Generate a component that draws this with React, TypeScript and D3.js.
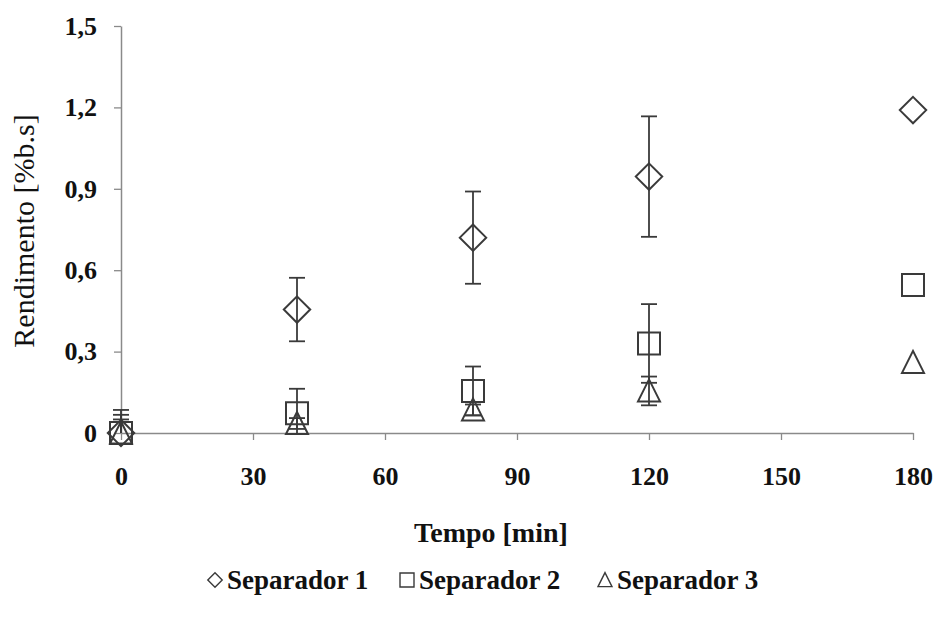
import React, { useEffect, useRef } from 'react';
import * as d3 from 'd3';

// x values (minutes)
const tempos = [0, 40, 80, 120, 180];
const seriesNames = ['Separador 1', 'Separador 2', 'Separador 3'];
const sep1 = [0, 0.455, 0.72, 0.945, 1.19];
const sep2 = [0, 0.073, 0.155, 0.33, 0.545];
const sep3 = [0, 0.035, 0.085, 0.155, 0.26];
// error bar half-widths (null = no bar)
const err1 = [0.05, 0.117, 0.17, 0.222, null];
const err2 = [0.085, 0.09, 0.09, 0.145, null];
const err3 = [0.067, 0.02, 0.02, 0.053, null];
const xTicks = [0, 30, 60, 90, 120, 150, 180];
const yTicks = [0, 0.3, 0.6, 0.9, 1.2, 1.5];

const W = 938;
const H = 620;
const margin = { top: 26, right: 25, bottom: 187, left: 121 };

function App() {
  const svgRef = useRef<SVGSVGElement>(null);

  useEffect(() => {
    const svg = d3.select(svgRef.current);
    svg.selectAll('*').remove();

    const x = d3.scaleLinear().domain([0, 180]).range([margin.left, W - margin.right]);
    const y = d3.scaleLinear().domain([0, 1.5]).range([H - margin.bottom, margin.top]);
    const font = '"Liberation Serif", serif';
    const ink = '#3a3a3a';

    // axes
    const xAxis = svg.append('g')
      .attr('transform', `translate(0,${y(0)})`)
      .call(d3.axisBottom(x).tickValues(xTicks).tickSize(7).tickPadding(27).tickSizeOuter(0));
    xAxis.select('.domain').attr('stroke', '#8a8a8a').attr('stroke-width', 1.5);
    xAxis.selectAll('.tick line').attr('stroke', '#8a8a8a').attr('stroke-width', 1.3);
    xAxis.selectAll('.tick text')
      .style('font-family', font).style('font-size', '26px').style('font-weight', 'bold').attr('fill', '#111')
      .text(d => String(d));

    const yAxis = svg.append('g')
      .attr('transform', `translate(${margin.left},0)`)
      .call(d3.axisLeft(y).tickValues(yTicks).tickSize(7).tickPadding(17).tickSizeOuter(0));
    yAxis.select('.domain').attr('stroke', '#8a8a8a').attr('stroke-width', 1.5);
    yAxis.selectAll('.tick line').attr('stroke', '#8a8a8a').attr('stroke-width', 1.3);
    yAxis.selectAll('.tick text')
      .style('font-family', font).style('font-size', '26px').style('font-weight', 'bold').attr('fill', '#111')
      .text(d => (d === 0 ? '0' : d3.format('.1f')(d as number).replace('.', ',')));

    // titles
    svg.append('text')
      .attr('x', 491).attr('y', 542)
      .attr('text-anchor', 'middle')
      .style('font-family', font).style('font-size', '28px').style('font-weight', 'bold').attr('fill', '#111')
      .text('Tempo [min]');
    svg.append('text')
      .attr('transform', `translate(34,231) rotate(-90)`)
      .attr('text-anchor', 'middle')
      .style('font-family', font).style('font-size', '30px').attr('fill', '#111')
      .text('Rendimento [%b.s]');

    const diamond = (s: number) => `M0,${-s}L${s},0L0,${s}L${-s},0Z`;
    const square = (s: number) => `M${-s},${-s}H${s}V${s}H${-s}Z`;
    const triangle = (s: number) => `M0,${-s * 1.05}L${s},${s * 0.95}L${-s},${s * 0.95}Z`;

    const series = [
      { vals: sep1, errs: err1, shape: (s: number) => diamond(s * 1.2) },
      { vals: sep2, errs: err2, shape: square },
      { vals: sep3, errs: err3, shape: triangle },
    ];

    // error bars
    series.forEach(sr => {
      const g = svg.append('g').attr('stroke', ink).attr('stroke-width', 1.8);
      tempos.forEach((t, i) => {
        const e = sr.errs[i];
        if (e == null) return;
        const v = sr.vals[i];
        const cx = x(t);
        g.append('line').attr('x1', cx).attr('x2', cx).attr('y1', y(v + e)).attr('y2', y(Math.max(0, v - e)));
        g.append('line').attr('x1', cx - 8).attr('x2', cx + 8).attr('y1', y(v + e)).attr('y2', y(v + e));
        if (v - e >= 0) g.append('line').attr('x1', cx - 8).attr('x2', cx + 8).attr('y1', y(v - e)).attr('y2', y(v - e));
      });
    });

    // markers
    series.forEach(sr => {
      svg.append('g').selectAll('path')
        .data(tempos.map((t, i) => ({ t, v: sr.vals[i] })))
        .join('path')
        .attr('transform', d => `translate(${x(d.t)},${y(d.v)})`)
        .attr('d', sr.shape(11))
        .attr('fill', 'none')
        .attr('stroke', ink)
        .attr('stroke-width', 2);
    });

    // legend
    const legend = svg.append('g').attr('transform', 'translate(0,589)');
    const legendX = [207, 399, 597];
    seriesNames.forEach((name, i) => {
      const lx = legendX[i];
      legend.append('path')
        .attr('transform', `translate(${lx + 8},-9)`)
        .attr('d', series[i].shape(i === 0 ? 6 : 7))
        .attr('fill', 'none').attr('stroke', ink).attr('stroke-width', 1.4);
      legend.append('text')
        .attr('x', lx + 20).attr('y', 0)
        .style('font-family', font).style('font-size', '27px').style('font-weight', 'bold').attr('fill', '#111')
        .text(name);
    });
  }, []);

  return (
    <svg ref={svgRef} width={W} height={H}
      style={{ position: 'absolute', left: 0, top: 0, background: '#fff' }} />
  );
}

export default App;
